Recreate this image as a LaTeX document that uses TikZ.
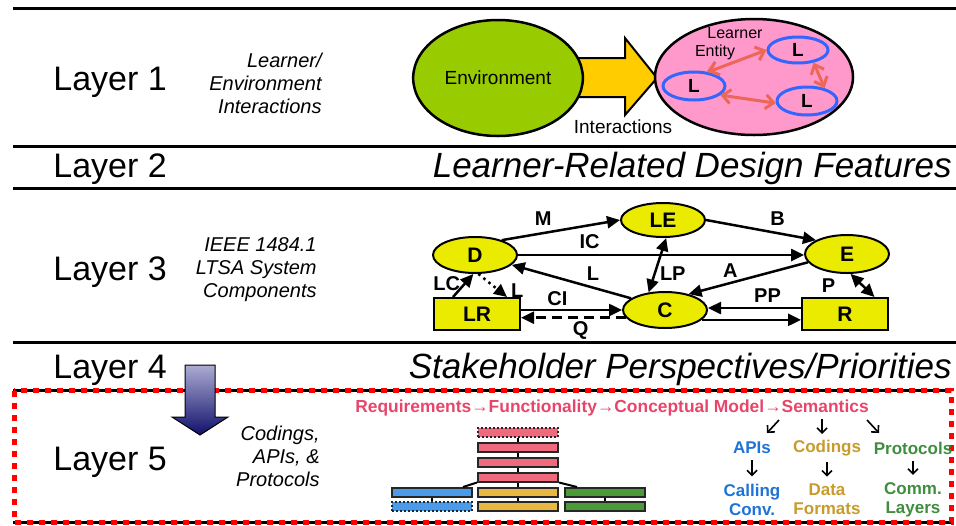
\documentclass[tikz,border=0pt]{standalone}
\usepackage{fontspec}
\setmainfont{Liberation Sans}
\usetikzlibrary{arrows.meta,shapes.geometric,positioning}

\definecolor{envgreen}{HTML}{99CC00}
\definecolor{interyellow}{HTML}{FFCC00}
\definecolor{entitypink}{HTML}{FF99CC}
\definecolor{learnerblue}{HTML}{3366FF}
\definecolor{linkred}{HTML}{EE6655}
\definecolor{ltsayellow}{HTML}{EBEB00}
\definecolor{reqred}{HTML}{E8456A}
\definecolor{stackpink}{HTML}{F06A7E}
\definecolor{stackgold}{HTML}{E8B840}
\definecolor{stackblue}{HTML}{4A9BEA}
\definecolor{stackgreen}{HTML}{4A9A38}
\definecolor{apiblue}{HTML}{1F73D6}
\definecolor{codinggold}{HTML}{C89B2C}
\definecolor{protogreen}{HTML}{3E8E3E}

\tikzset{
    layertext/.style={anchor=base west, inner sep=0pt, font=\fontsize{17}{20}\selectfont},
    titletext/.style={anchor=base east, inner sep=0pt, font=\itshape\fontsize{17.5}{20}\selectfont},
    sidetext/.style={anchor=east, align=right, inner sep=0pt, font=\itshape\fontsize{10}{11.5}\selectfont},
    learner/.style={ellipse, draw=learnerblue, line width=1.5pt, inner sep=0pt, font=\bfseries\fontsize{9.5}{10}\selectfont},
    link/.style={draw=linkred, line width=1.5pt, {Straight Barb[length=4pt,width=7pt]}-{Straight Barb[length=4pt,width=7pt]}},
    comp/.style={ellipse, draw, fill=ltsayellow, line width=1pt, inner sep=0pt, minimum width=42pt, minimum height=18pt, font=\bfseries\fontsize{10.5}{12}\selectfont},
    store/.style={rectangle, draw, fill=ltsayellow, line width=1pt, inner sep=0pt, minimum width=43pt, minimum height=16pt, font=\bfseries\fontsize{10.5}{12}\selectfont},
    flow/.style={line width=1.25pt, -{Triangle[length=6.5pt,width=6pt]}},
    twoway/.style={line width=1.25pt, {Triangle[length=6.5pt,width=6pt]}-{Triangle[length=6.5pt,width=6pt]}},
    lbl/.style={inner sep=1pt, font=\bfseries\fontsize{10}{12}\selectfont},
    slab/.style={rectangle, draw=black!85, line width=1pt, minimum width=40pt, minimum height=4.5pt, inner sep=0pt},
    tech/.style={align=center, inner sep=0pt, font=\bfseries\fontsize{8.5}{9.5}\selectfont},
    tip/.style={line width=0.8pt, -{Straight Barb[length=2.5pt,width=5pt]}},
}

\begin{document}
\begin{tikzpicture}[x=0.5pt,y=-0.5pt]
        \useasboundingbox (0,0) rectangle (956,525);
        \foreach \y in {8,146,188,342}
            \draw[line width=1.5pt] (13,\y) -- (956,\y);
        \draw[line width=1.5pt] (13,390.5) -- (951,390.5);
        \draw[line width=1.5pt] (13,522) -- (951,522);
        \draw[red, line width=2.5pt, dash pattern=on 3pt off 3pt] (14,390.5) rectangle (951,522);

        \node[layertext] (layer1) at (53,90) {Layer 1};
        \node[layertext] (layer2) at (53,177) {Layer 2};
        \node[layertext] (layer3) at (53,280) {Layer 3};
        \node[layertext] (layer4) at (53,378) {Layer 4};
        \node[layertext] (layer5) at (53,470) {Layer 5};
        \node[sidetext] (side1) at (322,83) {Learner/\\Environment\\Interactions};
        \node[sidetext] (side3) at (317,270) {IEEE 1484.1\\LTSA System\\Components};
        \node[sidetext] (side5) at (320,456) {Codings,\\APIs, \&\\Protocols};
        \node[titletext] (title2) at (952,177) {Learner-Related Design Features};
        \node[titletext] (title4) at (952,378) {Stakeholder Perspectives/Priorities};

        \draw[fill=interyellow, line width=1pt] (570,58) -- (625,58) -- (625,38) -- (657,78) -- (625,115) -- (625,97) -- (570,97) -- cycle;
        \node[ellipse, draw, fill=envgreen, line width=1.25pt, minimum width=81pt, minimum height=58pt, font=\fontsize{9.5}{11}\selectfont] (env) at (498,78) {Environment};
        \node[font=\fontsize{9.5}{11}\selectfont] (inter) at (623,127) {Interactions};
        \node[ellipse, draw, fill=entitypink, line width=1.25pt, minimum width=99pt, minimum height=58pt] (entity) at (754,77) {};
        \node[learner, minimum width=31pt, minimum height=14pt] (la) at (694,86) {L};
        \node[learner, minimum width=30pt, minimum height=13pt] (lb) at (798,50) {L};
        \node[learner, minimum width=30pt, minimum height=14pt] (lc) at (807,101) {L};
        \node[font=\fontsize{8}{9}\selectfont, inner sep=0pt] (lrn) at (735,33) {Learner};
        \node[font=\fontsize{8}{9}\selectfont, inner sep=0pt] (enty) at (715,52) {Entity};
        \draw[linkred, line width=1.2pt] ([yshift=-1pt]enty.south) -- (la.45);
        \draw[link] (la.45) -- (lb.west);
        \draw[link] (lb.-39) -- (lc.36);
        \draw[link] (la.-19) -- (lc.184);

        \node[comp] (D) at (475,255) {D};
        \node[comp, minimum height=17pt] (LE) at (663,220) {LE};
        \node[comp, minimum height=19pt] (E) at (847,254) {E};
        \node[comp] (C) at (665,310) {C};
        \node[store] (LR) at (477,314) {LR};
        \node[store] (R) at (845,314) {R};
        \draw[flow] (D.29) -- node[lbl, pos=.35, above=2pt] (lM) {M} (LE.west);
        \draw[flow] (LE.east) -- node[lbl, pos=.65, above=2pt] (lB) {B} (E.156);
        \draw[flow] (D.east) -- node[lbl, pos=.25, above=1.5pt] (lIC) {IC} (D.east -| E.west);
        \draw[flow] (C.161) -- node[lbl, pos=.32, above=2pt] (lL) {L} (D.-15);
        \draw[twoway] (LE.-80) -- node[lbl, pos=.65, right=1pt] (lLP) {LP} (C.133);
        \draw[flow] (E.192) -- node[lbl, pos=.65, above=1pt] (lA) {A} (C.34);
        \draw[twoway] (E.-80) -- node[lbl, pos=.5, left=12pt] (lP) {P} (R.30);
        \draw[flow] ([yshift=3pt]R.west) -- node[lbl, pos=.36, above=1pt] (lPP) {PP} ([yshift=3pt]R.west -| C.east);
        \draw[flow] (C.-15) -- (C.-15 -| R.west);
        \draw[flow] ([yshift=2pt]LR.east) -- node[lbl, pos=.36, above=.5pt] (lCI) {CI} ([yshift=2pt]LR.east -| C.west);
        \draw[flow, dash pattern=on 5pt off 3pt] (C.-169) -- node[lbl, pos=.43, below=.5pt] (lQ) {Q} (C.-169 -| LR.east);
        \draw[flow] ([xshift=-12pt]LR.north) -- node[lbl, pos=.6, left=1pt] (lLC) {LC} (D.-95);
        \draw[flow, dotted] (D.-80) -- node[lbl, pos=.72, right=4.5pt] (lL2) {L} ([xshift=15pt]LR.north);

        \shadedraw[top color={rgb,255:red,172;green,172;blue,212}, bottom color={rgb,255:red,16;green,16;blue,106}, line width=.5pt] (185,365) -- (215,365) -- (215,417) -- (228,417) -- (200,435) -- (172,417) -- (185,417) -- cycle;
        \node[font=\bfseries\fontsize{8.7}{10}\selectfont, text=reqred] (req) at (612,408) {Requirements→Functionality→Conceptual Model→Semantics};

        \node[slab, fill=stackpink, densely dotted] (p0) at (518,432.5) {};
        \node[slab, fill=stackpink] (p1) at (518,447.5) {};
        \node[slab, fill=stackpink] (p2) at (518,462.5) {};
        \node[slab, fill=stackpink] (p3) at (518,477) {};
        \node[slab, fill=stackgold] (y1) at (518,492.5) {};
        \node[slab, fill=stackgold] (y2) at (518,506.5) {};
        \node[slab, fill=stackblue] (b1) at (432,492.5) {};
        \node[slab, fill=stackblue, densely dotted] (b2) at (432,506.5) {};
        \node[slab, fill=stackgreen] (g1) at (605,492.5) {};
        \node[slab, fill=stackgreen] (g2) at (605,506.5) {};
        \foreach \a/\b in {p0/p1, p1/p2, p2/p3, p3/y1, y1/y2, b1/b2, g1/g2}
            \draw[line width=1pt] (\a.south) -- (\b.north);
        \draw[line width=1pt] (p3.south west) -- ([xshift=-5pt]b1.north east);
        \draw[line width=1pt] (p3.south east) -- ([xshift=-14pt]g1.north);

        \node[tech, text=apiblue] (apis) at (752,448) {APIs};
        \node[tech, text=codinggold] (codings) at (827,448) {Codings};
        \node[tech, text=protogreen] (protocols) at (913,448) {Protocols};
        \node[tech, text=apiblue] (calling) at (752,499.5) {Calling\\Conv.};
        \node[tech, text=codinggold] (data) at (827,499.5) {Data\\Formats};
        \node[tech, text=protogreen] (comm) at (913,499.5) {Comm.\\Layers};
        \foreach \a/\b in {apis/calling, codings/data, protocols/comm}
            \draw[tip] ([yshift=-3pt]\a.south) -- ([yshift=3.5pt]\b.north);
        \coordinate (s1) at (779,420);
        \coordinate (e1) at (767,433);
        \coordinate (s2) at (822,419);
        \coordinate (e2) at (822,434);
        \coordinate (s3) at (867,420);
        \coordinate (e3) at (879,433);
        \draw[tip] (s1) -- (e1);
        \draw[tip] (s2) -- (e2);
        \draw[tip] (s3) -- (e3);
\end{tikzpicture}
\end{document}
